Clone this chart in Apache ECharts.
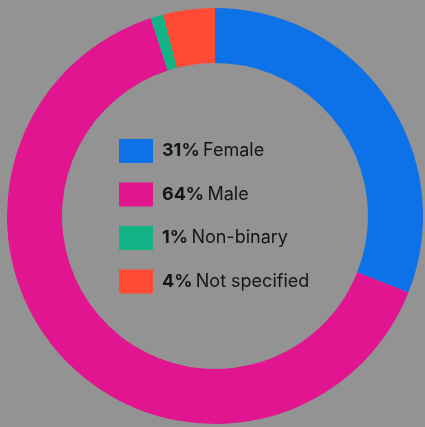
<!DOCTYPE html>
<html>
<head>
<meta charset="utf-8">
<script src="https://cdn.jsdelivr.net/npm/echarts@6/dist/echarts.min.js"></script>
<style>
html,body{margin:0;padding:0;background:#939393;}
#c{width:425px;height:427px;}
</style>
</head>
<body>
<div id="c"></div>
<script>
var categories = ["Female", "Male", "Non-binary", "Not specified"];
var values = [31, 64, 1, 4];
var colors = ["#0D72E8", "#E0158F", "#12B385", "#FF4B33"];

var chart = echarts.init(document.getElementById('c'));
var data = categories.map(function (c, i) {
  return { name: c, value: values[i], itemStyle: { color: colors[i] } };
});
chart.setOption({
  backgroundColor: '#939393',
  animation: false,
  legend: {
    orient: 'vertical',
    left: 119,
    top: 139,
    padding: 0,
    itemWidth: 34,
    itemHeight: 24,
    itemGap: 19.5,
    icon: 'rect',
    selectedMode: false,
    data: categories,
    formatter: function (name) {
      var i = categories.indexOf(name);
      return '{b|' + values[i] + '%} {n|' + name + '}';
    },
    textStyle: {
      padding: [0, 0, 0, 4],
      rich: {
        b: { fontFamily: 'Inter', fontWeight: 'bold', fontSize: 18, color: '#151515' },
        n: { fontFamily: 'Inter', fontWeight: 'normal', fontSize: 18, color: '#151515' }
      }
    }
  },
  series: [{
    type: 'pie',
    center: [215, 216],
    radius: [153, 208],
    startAngle: 90,
    clockwise: true,
    label: { show: false },
    labelLine: { show: false },
    emphasis: { disabled: true },
    itemStyle: { borderWidth: 0 },
    data: data
  }]
});
</script>
</body>
</html>
